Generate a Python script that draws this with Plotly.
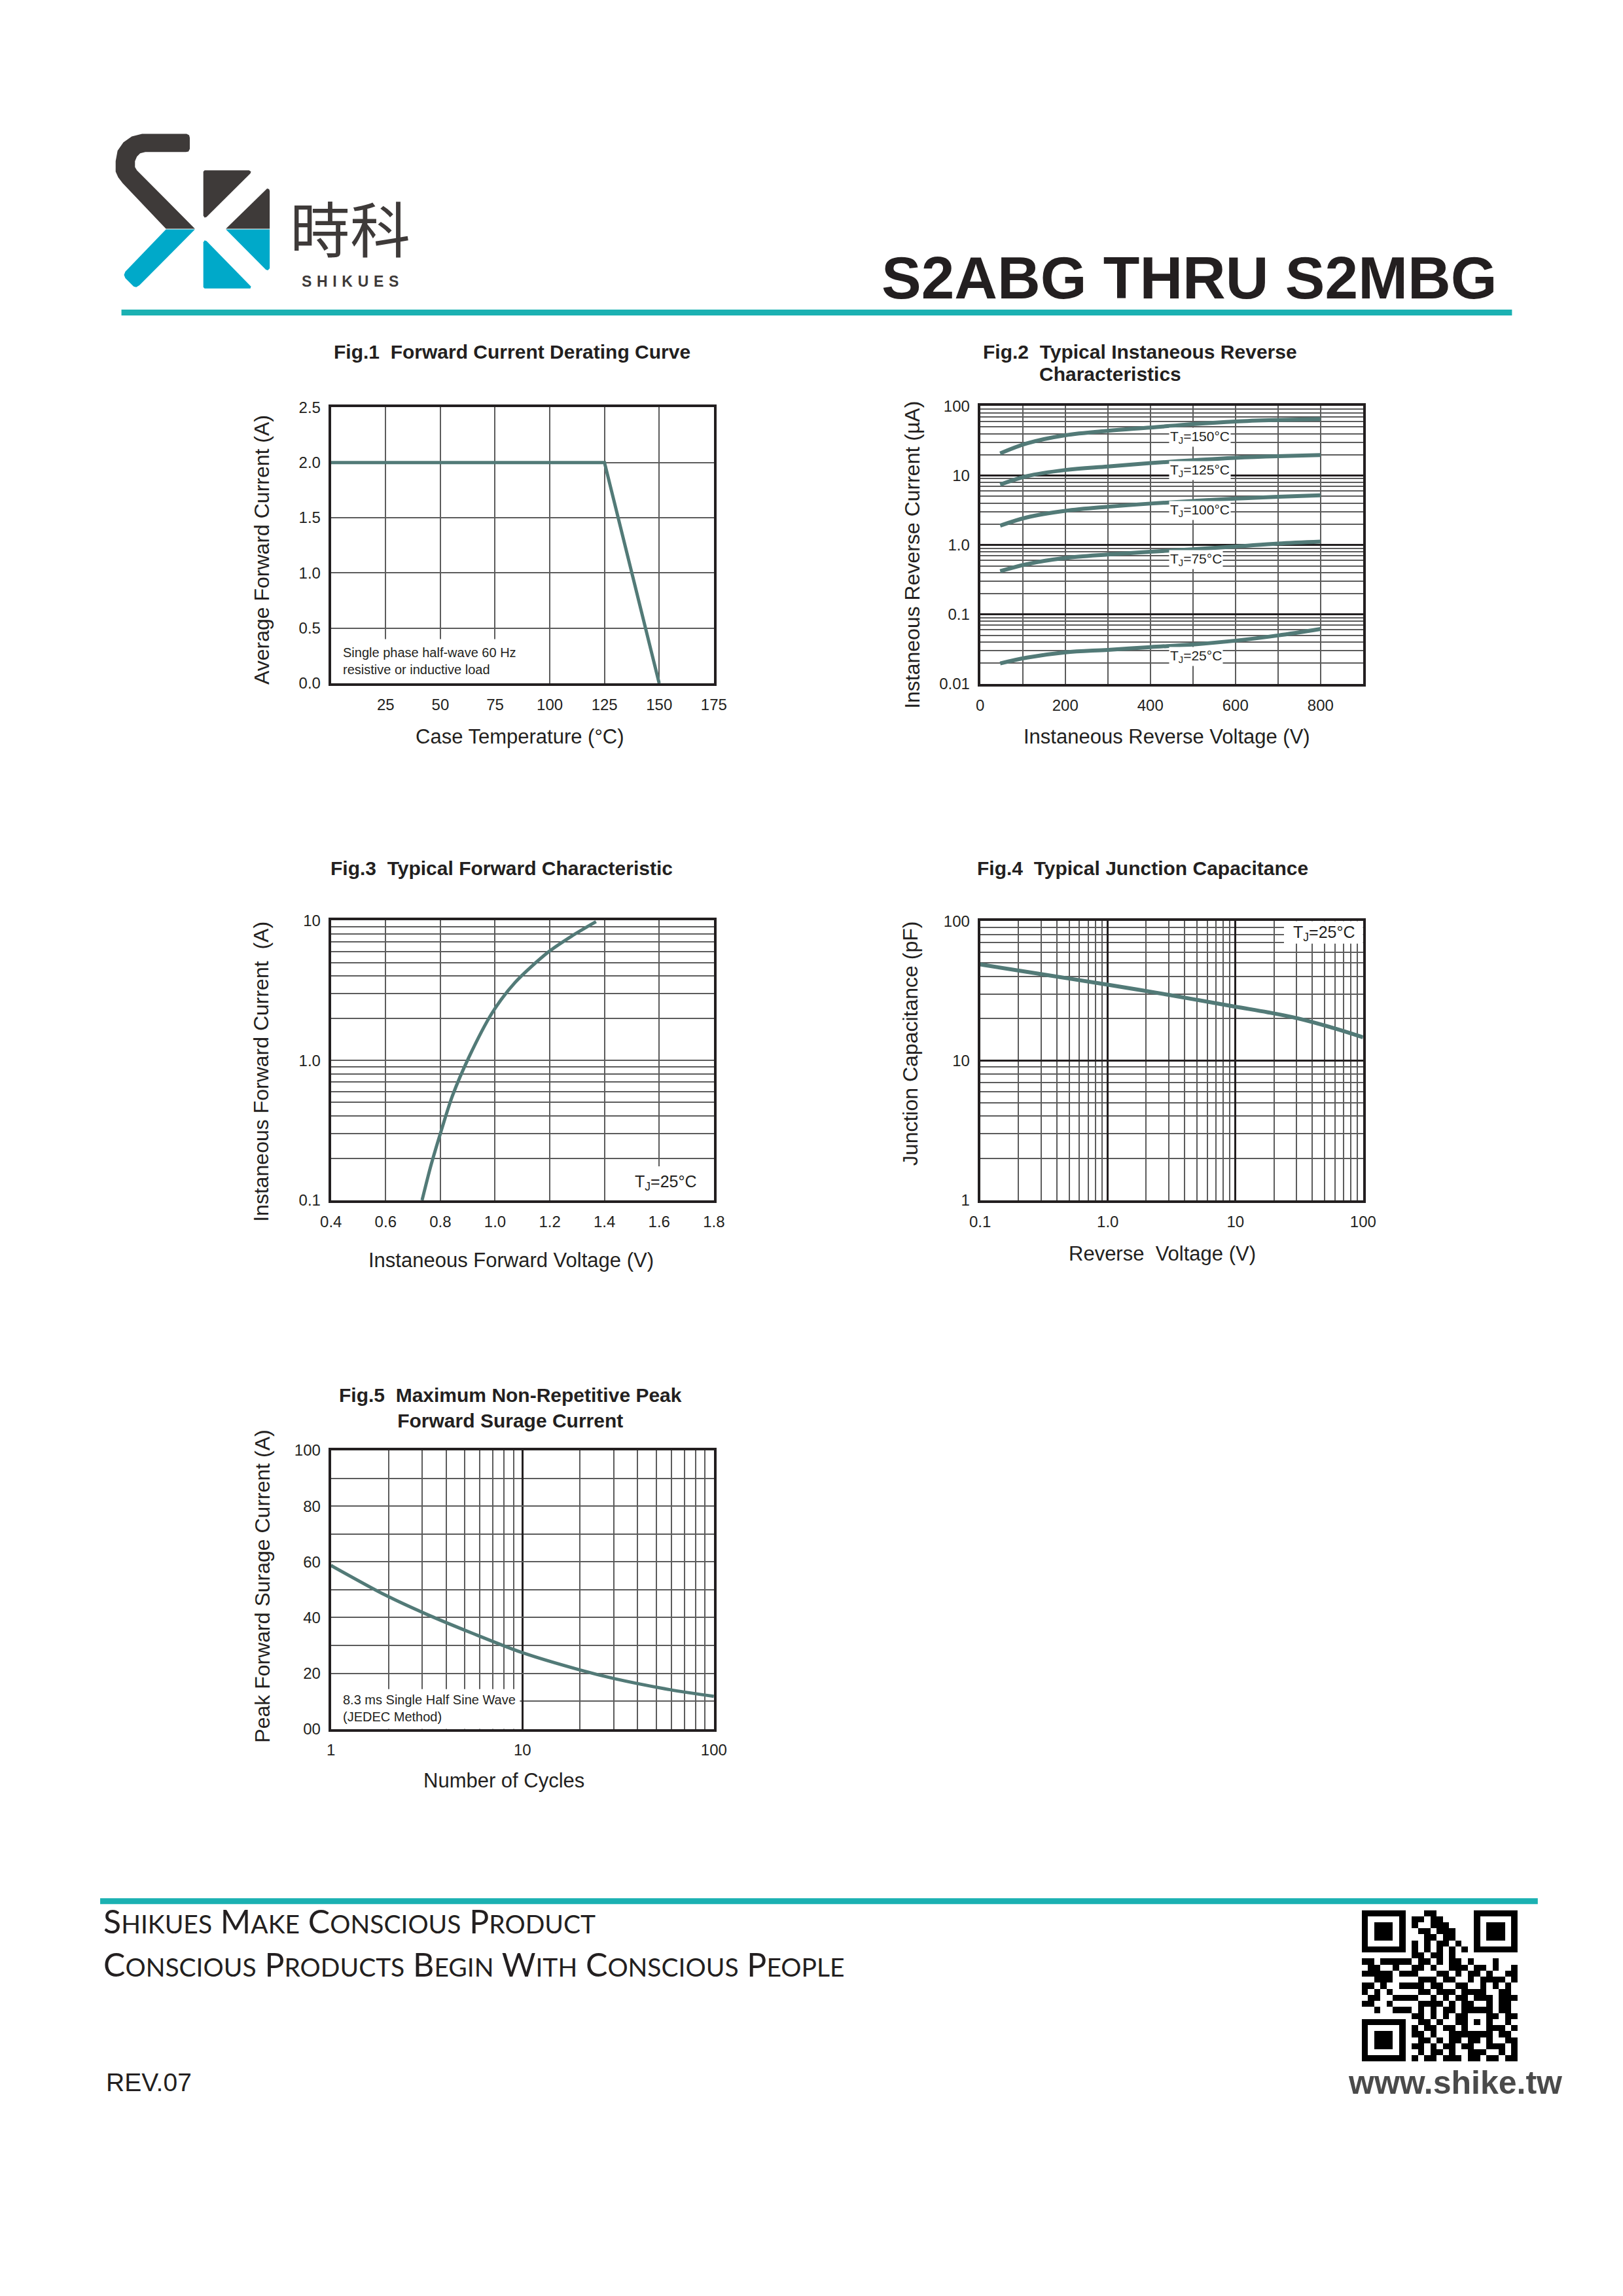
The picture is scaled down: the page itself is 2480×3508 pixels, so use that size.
import math
import plotly.graph_objects as go

W, H = 2480, 3508
OFF = 8  # page body margin of the html page
INK = "#231f20"
CURVE = "#527a77"
TEAL = "#1bb1b2"
GRID = "#5c5c5c"
LOGO_DARK = "#3e3a39"
LOGO_CYAN = "#00a9c9"
SANS = "Liberation Sans, Arial, sans-serif"

#%% data
# Fig.1 forward current derating
f1_case_temp = [0, 125, 150]
f1_avg_current = [2.0, 2.0, 0.0]
f1_xtickvals = [25, 50, 75, 100, 125, 150, 175]
f1_xticktext = ["25", "50", "75", "100", "125", "150", "175"]
f1_ytickvals = [0, 0.5, 1.0, 1.5, 2.0, 2.5]
f1_yticktext = ["0.0", "0.5", "1.0", "1.5", "2.0", "2.5"]

# Fig.2 reverse current (uA) vs reverse voltage (V)
f2_voltage = [47, 110, 200, 300, 400, 500, 600, 700, 800]
f2_ir_150 = [20.8, 29, 38, 44, 49, 55, 60, 63, 65]
f2_ir_125 = [7.4, 9.8, 12, 13.5, 15.1, 16.6, 18, 19, 19.7]
f2_ir_100 = [1.9, 2.5, 3.1, 3.55, 3.95, 4.3, 4.65, 4.95, 5.2]
f2_ir_75 = [0.42, 0.53, 0.65, 0.73, 0.8, 0.87, 0.95, 1.05, 1.12]
f2_ir_25 = [0.0198, 0.024, 0.0285, 0.031, 0.034, 0.037, 0.042, 0.05, 0.062]
f2_temps = ["150", "125", "100", "75", "25"]
f2_label_y = [35.7, 11.7, 3.13, 0.62, 0.025]
f2_xtickvals = [0, 200, 400, 600, 800]
f2_xticktext = ["0", "200", "400", "600", "800"]
f2_ytickvals = [0.01, 0.1, 1, 10, 100]
f2_yticktext = ["0.01", "0.1", "1.0", "10", "100"]

# Fig.3 forward characteristic
f3_vf = [0.733, 0.766, 0.802, 0.844, 0.904, 0.989, 1.073, 1.194, 1.279, 1.369]
f3_if = [0.1, 0.179, 0.309, 0.557, 1.05, 2.18, 3.6, 5.93, 7.7, 9.8]
f3_xtickvals = [0.4, 0.6, 0.8, 1.0, 1.2, 1.4, 1.6, 1.8]
f3_xticktext = ["0.4", "0.6", "0.8", "1.0", "1.2", "1.4", "1.6", "1.8"]
f3_ytickvals = [0.1, 1, 10]
f3_yticktext = ["0.1", "1.0", "10"]

# Fig.4 junction capacitance
f4_vr = [0.1, 0.31, 1.0, 3.0, 9.9, 18, 30.7, 59, 100]
f4_cj = [48.9, 41.5, 35, 29.6, 24.4, 22.2, 20.1, 17.1, 14.7]
f4_xtickvals = [0.1, 1, 10, 100]
f4_xticktext = ["0.1", "1.0", "10", "100"]
f4_ytickvals = [1, 10, 100]
f4_yticktext = ["1", "10", "100"]

# Fig.5 surge current
f5_cycles = [1, 1.93, 3.13, 5.46, 9.9, 20.2, 30.1, 59, 100]
f5_ifsm = [58.7, 48.0, 41.3, 34.4, 27.5, 21.1, 18.1, 14.1, 11.7]
f5_xtickvals = [1, 10, 100]
f5_xticktext = ["1", "10", "100"]
f5_ytickvals = [0, 20, 40, 60, 80, 100]
f5_yticktext = ["00", "20", "40", "60", "80", "100"]

# QR code modules (approximate)
qr_rows = [
    "1111111 0 001100000 0 1111111",
    "1000001 0 110110000 0 1000001",
    "1011101 0 100111000 0 1011101",
    "1011101 0 011011100 0 1011101",
    "1011101 0 001101100 0 1011101",
    "1000001 0 101011010 0 1000001",
    "1111111 0 101010101 0 1111111",
    "0000000 0 110110100 0 0000000",
    "1101111 1 011010110 1 0001000",
    "0110010 0 110100111 0 1101001",
    "1111101 1 100011010 1 1010011",
    "0011100 0 011101100 1 0111101",
    "1101001 1 110110011 0 0101010",
    "1010100 0 011011101 1 1100110",
    "0110011 1 100101011 0 1110111",
    "1100100 0 011110101 1 0010110",
    "0010011 101010110 11111 0110",
    "00000000 11010101 10001 1011",
    "1111111 0 01101001 10101 0010",
    "1000001 0 10110110 10001 1101",
    "1011101 0 11010011 11111 0110",
    "1011101 0 0110101101101 0011",
    "1011101 0 1101011011001 1101",
    "1000001 0 0101101001110 0101",
    "1111111 0 1011011101101 1011",
]


#%% helpers (page pixels -> paper)
def fx(x):
    return (x - OFF) / W

def fy(y):
    return 1 - (y - OFF) / H

def dom_x(left, right):
    return [fx(left), fx(right)]

def dom_y(top, bottom):
    return [fy(bottom), fy(top)]

def path(points):
    s = "M " + " L ".join(f"{fx(x):.5f},{fy(y):.5f}" for x, y in points)
    return s + " Z"

def small_caps(text, small=39):
    words = []
    for w in text.split(" "):
        words.append(w[0] + f"<span style='font-size:{small}px'>{w[1:].upper()}</span>")
    return " ".join(words)

def axis(domain, anchor, **kw):
    d = dict(domain=domain, anchor=anchor, showline=True, mirror=True, linecolor=INK, linewidth=4,
             ticks="", showgrid=True, gridcolor=GRID, gridwidth=2, zeroline=False,
             tickmode="array", tickfont=dict(family=SANS, size=24, color=INK), fixedrange=True)
    d.update(kw)
    return d

def minor_grid(dtick="D1", color=GRID, width=2):
    return dict(dtick=dtick, showgrid=True, gridcolor=color, gridwidth=width, ticks="")


#%% traces
fig = go.Figure()
fig.add_trace(go.Scatter(x=f1_case_temp, y=f1_avg_current, mode="lines", line=dict(color=CURVE, width=5),
                         xaxis="x", yaxis="y"))
for ir in [f2_ir_150, f2_ir_125, f2_ir_100, f2_ir_75, f2_ir_25]:
    fig.add_trace(go.Scatter(x=f2_voltage, y=ir, mode="lines", line=dict(color=CURVE, width=6, shape="spline"),
                             xaxis="x2", yaxis="y2"))
fig.add_trace(go.Scatter(x=f3_vf, y=f3_if, mode="lines", line=dict(color=CURVE, width=5, shape="spline", smoothing=0.8),
                         xaxis="x3", yaxis="y3"))
fig.add_trace(go.Scatter(x=f4_vr, y=f4_cj, mode="lines", line=dict(color=CURVE, width=6, shape="spline"),
                         xaxis="x4", yaxis="y4"))
fig.add_trace(go.Scatter(x=f5_cycles, y=f5_ifsm, mode="lines", line=dict(color=CURVE, width=5, shape="spline", smoothing=0.8),
                         xaxis="x5", yaxis="y5"))
qr = [[int(c) for c in r.replace(" ", "")] for r in qr_rows]
fig.add_trace(go.Heatmap(z=qr, colorscale=[[0, "white"], [1, "black"]], showscale=False, hoverinfo="skip",
                         xaxis="x6", yaxis="y6"))

#%% axes
fig.update_layout(
    xaxis=axis(dom_x(496, 1090), "y", range=[0, 175], tickvals=f1_xtickvals, ticktext=f1_xticktext, ticklabelstandoff=8),
    yaxis=axis(dom_y(613, 1038), "x", range=[0, 2.5], tickvals=f1_ytickvals, ticktext=f1_yticktext, ticklabelstandoff=7),
    xaxis2=axis(dom_x(1503, 2097), "y2", range=[0, 900], tickvals=f2_xtickvals, ticktext=f2_xticktext,
                minor=minor_grid(100), ticklabelstandoff=8),
    yaxis2=axis(dom_y(611, 1039), "x2", type="log", range=[-2, 2], tickvals=f2_ytickvals, ticktext=f2_yticktext,
                gridcolor=INK, gridwidth=3, minor=minor_grid(width=1.5), ticklabelstandoff=7),
    xaxis3=axis(dom_x(496, 1090), "y3", range=[0.4, 1.8], tickvals=f3_xtickvals, ticktext=f3_xticktext, ticklabelstandoff=8),
    yaxis3=axis(dom_y(1403, 1834), "x3", type="log", range=[-1, 1], tickvals=f3_ytickvals, ticktext=f3_yticktext,
                minor=minor_grid(), ticklabelstandoff=7),
    xaxis4=axis(dom_x(1503, 2097), "y4", type="log", range=[-1, 2], tickvals=f4_xtickvals, ticktext=f4_xticktext,
                gridcolor=INK, gridwidth=3, minor=minor_grid(), ticklabelstandoff=8),
    yaxis4=axis(dom_y(1404, 1834), "x4", type="log", range=[0, 2], tickvals=f4_ytickvals, ticktext=f4_yticktext,
                gridcolor=INK, gridwidth=3, minor=minor_grid(), ticklabelstandoff=7),
    xaxis5=axis(dom_x(496, 1090), "y5", type="log", range=[0, 2], tickvals=f5_xtickvals, ticktext=f5_xticktext,
                gridcolor=INK, gridwidth=3, minor=minor_grid(), ticklabelstandoff=8),
    yaxis5=axis(dom_y(2219, 2648), "x5", range=[0, 100], tickvals=f5_ytickvals, ticktext=f5_yticktext,
                minor=minor_grid(10), ticklabelstandoff=7),
    xaxis6=dict(domain=dom_x(2095, 2337), anchor="y6", visible=False, range=[-0.5, 24.5], fixedrange=True),
    yaxis6=dict(domain=dom_y(2927, 3160), anchor="x6", visible=False, range=[24.5, -0.5], fixedrange=True),
)

#%% shapes: white boxes behind notes, rules, logo
def blank(xref, yref, x0, x1, y0, y1):
    return dict(type="rect", xref=xref, yref=yref, x0=x0, x1=x1, y0=y0, y1=y1,
                fillcolor="white", line_width=0, layer="between")

shapes = [
    blank("x", "y", 0, 88, 0, 0.4),
    blank("x3", "y3", 1.49, 1.77, 0.1, 0.175),
    blank("x4", "y4", 24, 100, 69, 100),
    blank("x5", "y5", 1, 9.7, 0, 14.3),
    dict(type="line", xref="paper", yref="paper", x0=fx(171), x1=fx(2328), y0=fy(467), y1=fy(467),
         line=dict(color=TEAL, width=9)),
    dict(type="line", xref="paper", yref="paper", x0=fx(138), x1=fx(2368), y0=fy(2913), y1=fy(2913),
         line=dict(color=TEAL, width=9)),
]
logo_dark = [
    [(203, 192), (272, 192), (276, 194), (277, 198), (277, 215), (275, 219), (271, 220), (208, 220), (200, 222),
     (195, 227), (192, 234), (192, 243), (195, 248), (285, 338), (240, 338), (173, 268), (166, 259), (162, 250),
     (162, 234), (165, 218), (174, 205), (187, 196)],
    [(298, 250), (300, 248), (369, 248), (372, 250), (371, 253), (303, 320), (300, 321), (298, 318)],
    [(333, 338), (397, 276), (400, 277), (401, 280), (401, 338)],
]
logo_cyan = [
    [(240, 339), (285, 339), (199, 425), (194, 428), (190, 427), (177, 414), (175, 409), (177, 404)],
    [(333, 339), (401, 339), (401, 399), (398, 402), (395, 401)],
    [(298, 359), (300, 356), (303, 357), (372, 427), (371, 430), (368, 430), (300, 430), (298, 428)],
]
for pts in logo_dark:
    shapes.append(dict(type="path", xref="paper", yref="paper", path=path(pts), fillcolor=LOGO_DARK, line_width=0))
for pts in logo_cyan:
    shapes.append(dict(type="path", xref="paper", yref="paper", path=path(pts), fillcolor=LOGO_CYAN, line_width=0))

#%% text
def note(text, x, y, size, xanchor="center", yanchor="middle", family=SANS, color=INK, angle=0, align="center"):
    return dict(text=text, x=fx(x), y=fy(y), xref="paper", yref="paper", xanchor=xanchor, yanchor=yanchor,
                showarrow=False, font=dict(family=family, size=size, color=color), textangle=angle, align=align)

annotations = [
    note("<b>S2ABG THRU S2MBG</b>", 2306, 414, 91, xanchor="right"),
    note("時科", 526, 334, 92, family="Noto Sans CJK TC", color=LOGO_DARK),
    note("<b>" + "\u2004".join("SHIKUES") + "</b>", 526, 419, 23, color=LOGO_DARK),
    # figure titles
    note("<b>Fig.1  Forward Current Derating Curve</b>", 777, 528, 30),
    note("<b>Fig.2  Typical Instaneous Reverse</b>", 1505, 528, 30, xanchor="left"),
    note("<b>Characteristics</b>", 1593, 562, 30, xanchor="left"),
    note("<b>Fig.3  Typical Forward Characteristic</b>", 761, 1323, 30),
    note("<b>Fig.4  Typical Junction Capacitance</b>", 1755, 1323, 30),
    note("<b>Fig.5  Maximum Non-Repetitive Peak<br>Forward Surage Current</b>", 774, 2154, 30),
    # axis titles
    note("Average Forward Current (A)", 388, 832, 32, angle=-90),
    note("Case Temperature (°C)", 789, 1120, 31),
    note("Instaneous Reverse Current (µA)", 1397, 840, 32, angle=-90),
    note("Instaneous Reverse Voltage (V)", 1793, 1120, 31),
    note("Instaneous Forward Current  (A)", 388, 1636, 32, angle=-90),
    note("Instaneous Forward Voltage (V)", 775, 1926, 31),
    note("Junction Capacitance (pF)", 1394, 1592, 32, angle=-90),
    note("Reverse  Voltage (V)", 1786, 1916, 31),
    note("Peak Forward Surage Current (A)", 390, 2428, 32, angle=-90),
    note("Number of Cycles", 764, 2727, 31),
    # footer
    note(small_caps("Shikues Make Conscious Product"), 141, 2944, 50, xanchor="left", family="Lato, Open Sans, sans-serif"),
    note(small_caps("Conscious Products Begin With Conscious People"), 141, 3010, 50, xanchor="left",
         family="Lato, Open Sans, sans-serif"),
    note("REV.07", 145, 3192, 39, xanchor="left"),
    note("<b>www.shike.tw</b>", 2240, 3193, 50, color="#4a4a4a"),
]

# notes inside the plots (annotations on log axes take log10 positions)
def inner(text, x, y, xref, yref, size, xanchor="center", **kw):
    a = dict(text=text, x=x, y=y, xref=xref, yref=yref, xanchor=xanchor, yanchor="middle", align="left",
             showarrow=False, font=dict(family=SANS, size=size, color=INK))
    a.update(kw)
    return a

annotations += [
    inner("Single phase half-wave 60 Hz<br>resistive or inductive load", 5, 0.2, "x", "y", 20, xanchor="left"),
    inner("T<sub>J</sub>=25°C", 1.625, math.log10(0.133), "x3", "y3", 25),
    inner("T<sub>J</sub>=25°C", 1.694, 1.912, "x4", "y4", 25),
    inner("8.3 ms Single Half Sine Wave<br>(JEDEC Method)", math.log10(1.14), 7.4, "x5", "y5", 20, xanchor="left"),
]
for t, ly in zip(f2_temps, f2_label_y):
    annotations.append(inner(f"T<sub>J</sub>={t}°C", 444, math.log10(ly), "x2", "y2", 21, xanchor="left",
                             bgcolor="white", borderpad=1))

fig.update_layout(
    width=W, height=H, margin=dict(l=0, r=0, t=0, b=0),
    paper_bgcolor="white", plot_bgcolor="white", showlegend=False,
    shapes=shapes, annotations=annotations,
)

fig.write_html("out.html")
